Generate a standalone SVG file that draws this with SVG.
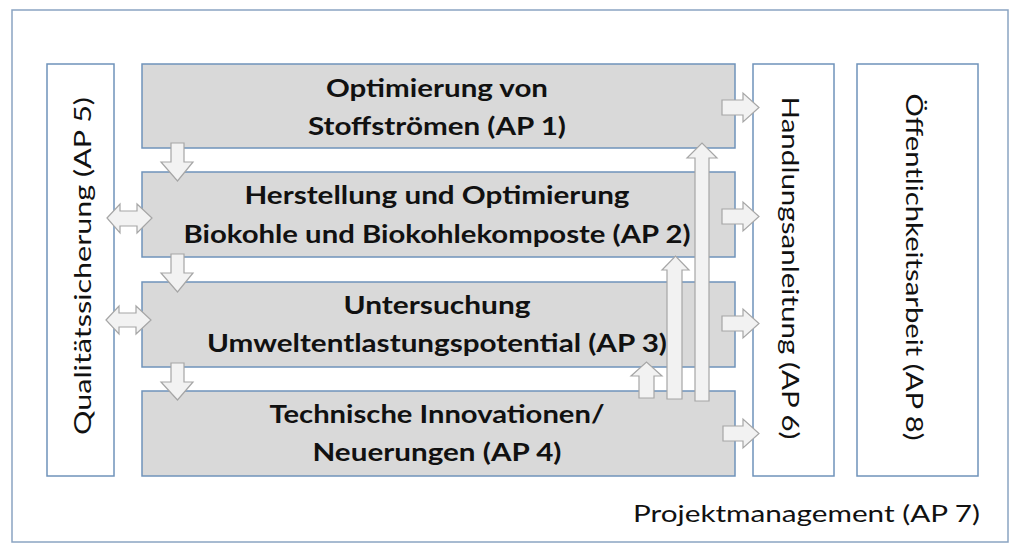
<svg xmlns="http://www.w3.org/2000/svg" width="1024" height="553" viewBox="0 0 1024 553">
<style>
.frame{fill:#ffffff;stroke:#8aa4c2;stroke-width:1.5}
.side{fill:#ffffff;stroke:#6f93ba;stroke-width:1.5}
.ap{fill:#d9d9d9;stroke:#6f93ba;stroke-width:1.5}
.arr{fill:#f2f2f2;stroke:#a6a6a6;stroke-width:1.2;stroke-linejoin:miter}
.b{font-family:Lato,"Liberation Sans",sans-serif;font-weight:bold;font-size:25px;fill:#111;text-anchor:middle}
.r{font-family:Lato,"Liberation Sans",sans-serif;font-size:24px;fill:#111}
</style>
<rect width="1024" height="553" fill="#ffffff"/>
<g id="frame">
<rect class="frame" x="12" y="10" width="996" height="532"/>
<text class="r" x="633" y="522" font-size="25" textLength="347" lengthAdjust="spacingAndGlyphs">Projektmanagement (AP 7)</text>
</g>
<g id="ap5">
<rect class="side" x="47" y="64" width="67" height="412"/>
<text class="r" transform="translate(83,266) rotate(-90)" y="8" text-anchor="middle" textLength="338" lengthAdjust="spacingAndGlyphs">Qualitätssicherung (AP 5)</text>
</g>
<g id="ap6">
<rect class="side" x="753" y="64" width="81" height="412"/>
<text class="r" transform="translate(790,268) rotate(90)" y="8" text-anchor="middle" textLength="343" lengthAdjust="spacingAndGlyphs">Handlungsanleitung (AP 6)</text>
</g>
<g id="ap8">
<rect class="side" x="857" y="64" width="121" height="412"/>
<text class="r" transform="translate(914,267) rotate(90)" y="8" text-anchor="middle" textLength="347" lengthAdjust="spacingAndGlyphs">Öffentlichkeitsarbeit (AP 8)</text>
</g>
<g id="ap1">
<rect class="ap" x="142" y="64" width="593" height="84"/>
<text class="b" x="437" y="97" textLength="222" lengthAdjust="spacingAndGlyphs">Optimierung von</text>
<text class="b" x="437" y="135" textLength="258" lengthAdjust="spacingAndGlyphs">Stoffströmen (AP 1)</text>
</g>
<g id="ap2">
<rect class="ap" x="142" y="172" width="593" height="85"/>
<text class="b" x="437" y="204" textLength="385" lengthAdjust="spacingAndGlyphs">Herstellung und Optimierung</text>
<text class="b" x="437" y="243" textLength="507" lengthAdjust="spacingAndGlyphs">Biokohle und Biokohlekomposte (AP 2)</text>
</g>
<g id="ap3">
<rect class="ap" x="142" y="282" width="593" height="85"/>
<text class="b" x="437" y="314" textLength="187" lengthAdjust="spacingAndGlyphs">Untersuchung</text>
<text class="b" x="437" y="352" textLength="460" lengthAdjust="spacingAndGlyphs">Umweltentlastungspotential (AP 3)</text>
</g>
<g id="ap4">
<rect class="ap" x="142" y="391" width="593" height="85"/>
<text class="b" x="437" y="423" textLength="335" lengthAdjust="spacingAndGlyphs">Technische Innovationen/</text>
<text class="b" x="437" y="461" textLength="249" lengthAdjust="spacingAndGlyphs">Neuerungen (AP 4)</text>
</g>
<g id="connectors">
<polygon class="arr" points="171,143 184,143 184,162 193,162 177.5,181 161,162 171,162"/>
<polygon class="arr" points="171,254 184,254 184,273 193,273 177.5,292 161,273 171,273"/>
<polygon class="arr" points="171,363 184,363 184,382 193,382 177.5,400 161,382 171,382"/>
<polygon class="arr" points="107,218 120,204 120,211 137,211 137,204 152,218 137,233 137,226 120,226 120,233"/>
<polygon class="arr" points="106,320 119,306 119,313 136,313 136,306 151,320 136,334 136,327 119,327 119,334"/>
<polygon class="arr" points="722,100 743,100 743,93 759,107.5 743,122 743,115 722,115"/>
<polygon class="arr" points="722,209 743,209 743,202 759,216.5 743,231 743,224 722,224"/>
<polygon class="arr" points="722,316 743,316 743,309 759,323.5 743,338 743,331 722,331"/>
<polygon class="arr" points="723,426 743,426 743,419 759,433.5 743,448 743,441 723,441"/>
<polygon class="arr" points="639,398 654,398 654,376 662,376 646.5,362 631,376 639,376"/>
<polygon class="arr" points="667,399 682,399 682,270 689,270 675.5,256 662,270 667,270"/>
<polygon class="arr" points="695,401 709,401 709,158 717,158 702,143 687,158 695,158"/>
</g>
</svg>
